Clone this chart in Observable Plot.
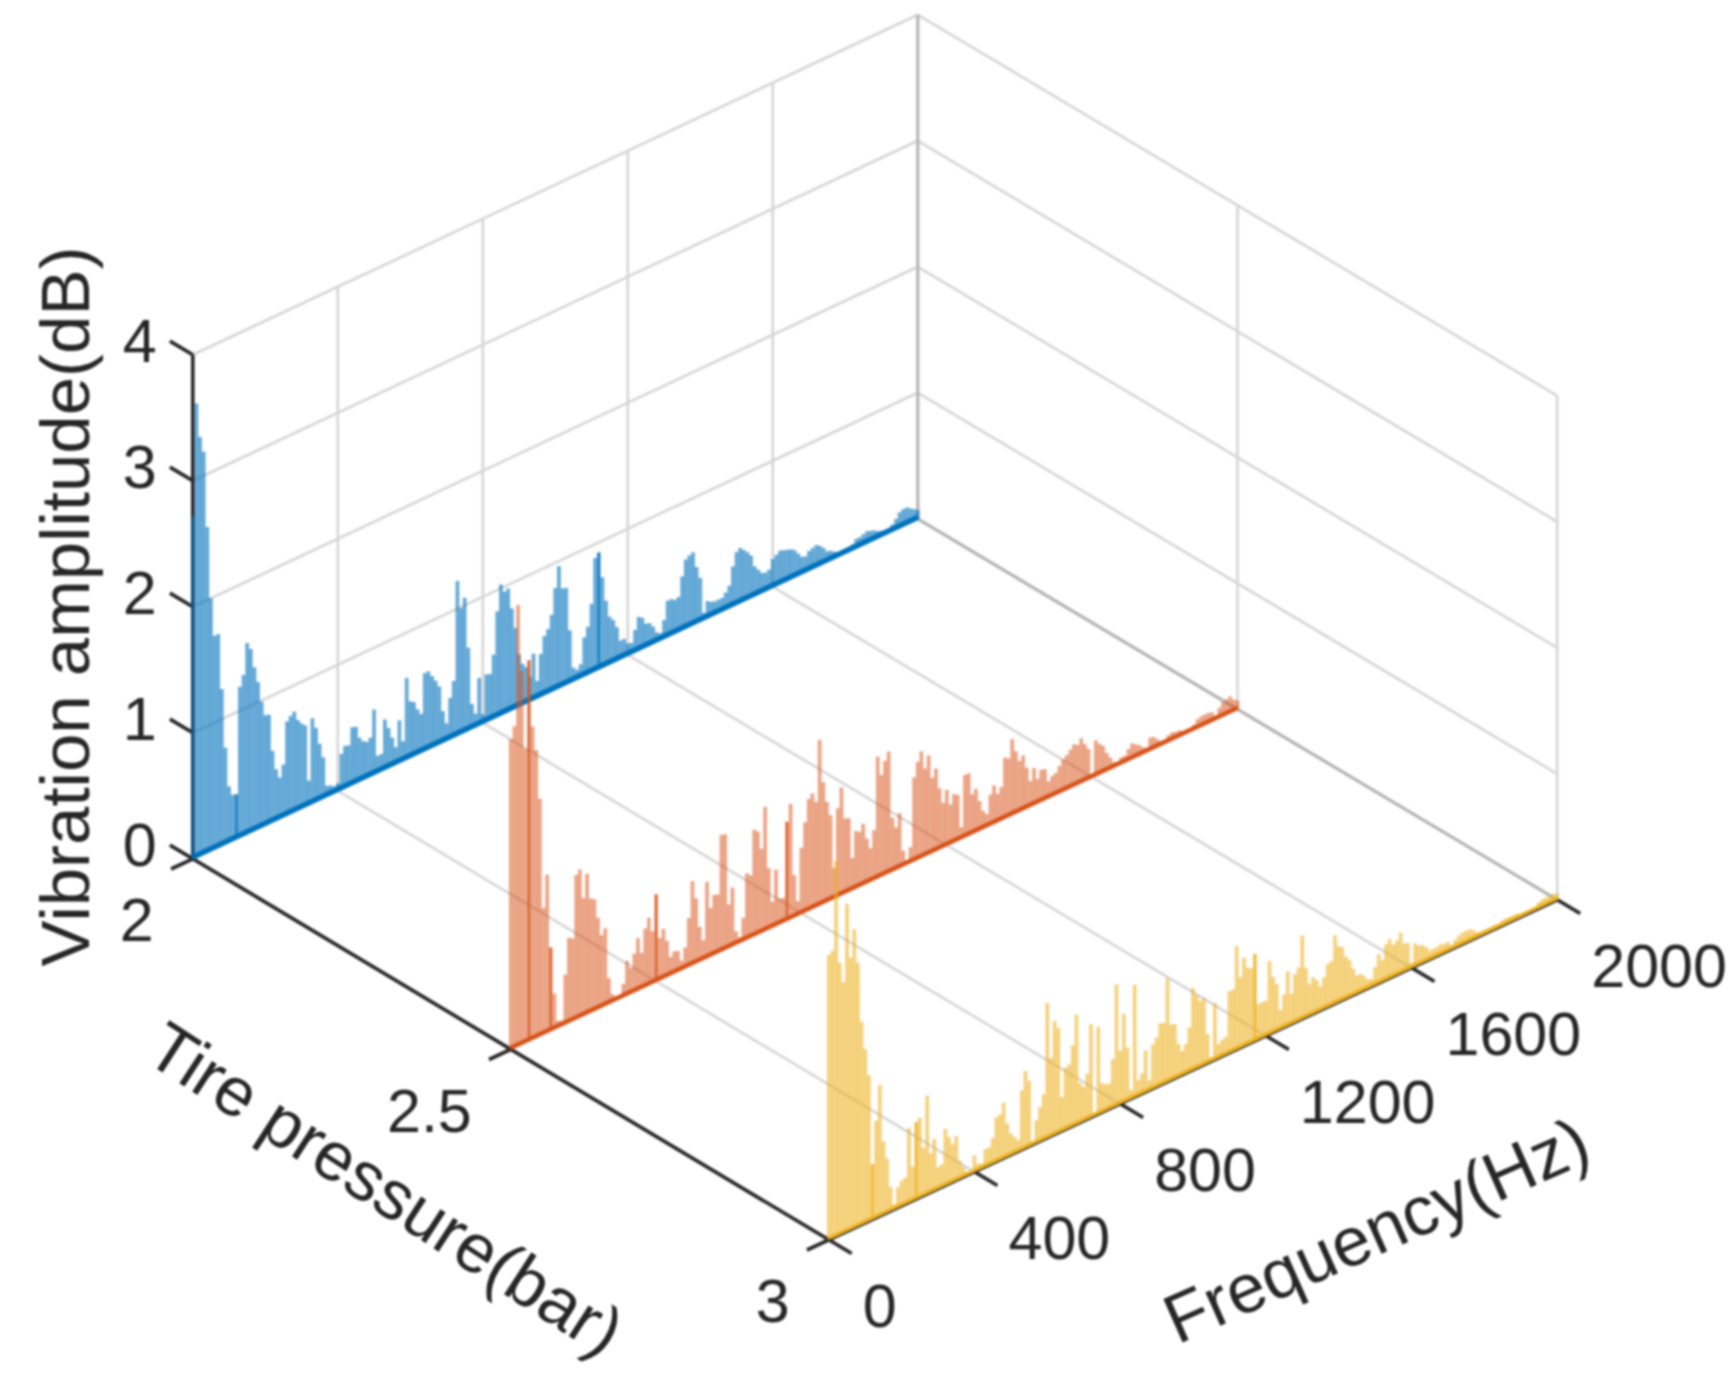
<!DOCTYPE html>
<html><head><meta charset="utf-8">
<script src="https://cdn.jsdelivr.net/npm/d3@7"></script>
<script src="https://cdn.jsdelivr.net/npm/@observablehq/plot@0.6"></script>
<style>html,body{margin:0;padding:0;background:#fff}svg{display:block}</style>
</head><body><div id="chart"></div>
<script>
const amp2 = [2.72,3.6,3.32,3.19,2.58,2.0,1.69,1.69,1.24,.76,.44,.36,.35,1.19,1.27,1.51,1.45,1.29,1.16,.99,.87,.86,.56,.40,.32,.41,.74,.77,.79,.71,.67,.64,.19,.67,.58,.44,.32,.08,.07,.05,.06,.28,.33,.32,.45,.44,.34,.30,.28,.30,.51,.13,.13,.39,.31,.22,.13,.33,.15,.64,.44,.42,.35,.30,.61,.61,.56,.51,.45,.24,.13,.32,.44,1.22,.99,1.06,.65,.19,.10,.37,.07,.37,.36,.50,.83,1.03,.96,.97,.80,.63,.41,.32,.28,.19,.36,.13,.33,.46,.5,.6,.8,.96,.77,.76,.41,.1,.07,.1,.3,.37,.54,.89,.92,.71,.51,.37,.33,.26,.14,.14,.09,.08,.17,.26,.24,.18,.17,.13,.07,.05,.14,.28,.28,.26,.27,.42,.54,.56,.57,.44,.34,.05,.13,.11,.10,.10,.10,.13,.17,.31,.41,.43,.40,.37,.33,.23,.19,.15,.14,.15,.22,.24,.26,.25,.24,.23,.21,.17,.13,.12,.15,.16,.17,.15,.12,.08,.07,.05,.03,.03,.03,.03,.04,.07,.07,.08,.09,.08,.07,.05,.04,.02,.02,.05,.08,.12,.13,.13,.11,.09,.07];
const amp25 = [2.46,2.55,3.5,2.96,2.33,3.02,2.48,2.28,1.88,1.0,1.25,.66,.28,.05,.04,.39,.67,.65,1.14,1.17,.93,1.11,.90,.88,.72,.57,.61,.2,.06,.02,.02,.1,.27,.2,.3,.41,.28,.46,.53,.41,.69,.33,.39,.28,.14,.17,.16,.07,.16,.38,.66,.51,.27,.15,.6,.38,.47,.46,.92,.91,.34,.46,.10,.04,.18,.52,.49,.84,.81,.66,.98,.48,.2,.44,.2,.19,.78,.91,.33,.11,.52,.71,.88,.91,.83,1.31,.96,.79,.67,.24,.7,.85,.59,.58,.25,.45,.43,.48,.35,.26,.39,.96,.8,.9,.96,.42,.33,.43,.12,.03,.12,.66,.77,.84,.69,.78,.59,.65,.48,.35,.44,.31,.38,.36,.09,.49,.49,.31,.34,.23,.14,.10,.24,.30,.22,.26,.48,.46,.6,.49,.40,.43,.32,.20,.29,.19,.25,.24,.13,.16,.17,.21,.25,.27,.30,.33,.31,.35,.29,.24,.01,.28,.24,.21,.14,.09,.04,.02,.05,.05,.09,.12,.10,.08,.05,.03,.10,.09,.06,.03,.03,.05,.06,.05,.05,.03,.02,.02,.04,.07,.08,.08,.08,.07,.03,.08,.11,.12,.13,.09,.07];
const amp3 = [2.26,2.28,2.98,2.16,1.99,2.6,2.16,2.37,2.09,1.61,1.38,1.16,.44,.77,1.04,.58,.43,.19,.04,.16,.2,.21,.59,.27,.61,.63,.38,.78,.31,.41,.17,.18,.45,.37,.3,.35,.14,.08,.01,.01,.13,.05,.04,.14,.14,.2,.35,.36,.44,.26,.17,.13,.09,.47,.61,.52,.03,.18,.27,.36,1.07,.62,.9,.83,.27,.49,.5,.64,.87,.31,.27,.36,.74,.02,.69,.23,.21,.2,.38,.96,.42,.7,.42,.07,.89,.12,.16,.33,.08,.35,.39,.49,.48,.82,.44,.43,.26,.19,.23,.35,.65,.58,.52,.53,.23,.03,.45,.11,.13,.14,.49,.49,.82,.56,.7,.61,.59,.69,.28,.28,.28,.58,.44,.37,.15,.26,.43,.24,.38,.42,.66,.39,.25,.29,.25,.19,.25,.34,.35,.54,.44,.42,.33,.29,.21,.14,.14,.11,.07,.06,.14,.23,.17,.28,.31,.25,.27,.32,.22,.21,.04,.18,.15,.14,.11,.07,.07,.07,.08,.07,.07,.03,.06,.08,.09,.09,.09,.07,.04,.03,.03,.03,.03,.03,.01,.04,.04,.04,.04,.04,.02,.02,.01,.01,.02,.05,.06,.06,.06,.06,.05];
const accent2 = [120, 1120];
const accent25 = [50, 110, 400, 760];
const accent3 = [120, 240, 1170];
const pressures = [2, 2.5, 3];
const colors = ["#0072BD", "#D95319", "#EDB120"];
const pressureLabels = ["2", "2.5", "3"];
const freqTicks = [0, 400, 800, 1200, 1600, 2000];
const ampTicks = [0, 1, 2, 3, 4];
const gridColor = "#d6d6d6", cornerColor = "#b4b4b4", inkColor = "#262626";

// axonometric view of (frequency, pressure, amplitude)
const sx = (f, p) => 192.3 + (f / 2000) * (725 + 3.4 * (p - 2)) + (p - 2) * 636;
const sy = (f, p, z = 0) => 858.3 - (f / 2000) * 340 + (p - 2) * 381 - z * 126;
const seg = (a, b) => ({x1: sx(a[0], a[1]), y1: sy(a[0], a[1], a[2]), x2: sx(b[0], b[1]), y2: sy(b[0], b[1], b[2])});
const linkOf = (rows, o) => Plot.link(rows, {x1: "x1", y1: "y1", x2: "x2", y2: "y2", ...o});

const freqGrid = freqTicks.slice(1, -1);
const grid = [
  ...ampTicks.slice(1).map(z => seg([0, 2, z], [2000, 2, z])),
  ...ampTicks.slice(1).map(z => seg([2000, 2, z], [2000, 3, z])),
  ...freqGrid.map(f => seg([f, 2, 0], [f, 2, 4])),
  ...freqGrid.map(f => seg([f, 2, 0], [f, 3, 0])),
  seg([0, 2.5, 0], [2000, 2.5, 0]),
  seg([2000, 2.5, 0], [2000, 2.5, 4]),
  seg([2000, 3, 0], [2000, 3, 4])
];
const corner = [seg([2000, 2, 0], [2000, 2, 4]), seg([2000, 2, 0], [2000, 3, 0])];
const axes = [seg([0, 2, 0], [0, 2, 4]), seg([0, 2, 0], [0, 3, 0]), seg([0, 3, 0], [2000, 3, 0])];
const tickP = 0.036, tickF = 60;
const ticks = [
  ...ampTicks.map(z => seg([0, 2, z], [0, 2 - tickP, z])),
  ...freqTicks.map(f => seg([f, 3, 0], [f, 3 + tickP, 0])),
  ...pressures.map(p => seg([0, p, 0], [-tickF, p, 0]))
];

const bars = (values, p) => values.map((z, i) => {
  const f = i * 10;
  return {f, ...seg([f, p, 0], [f, p, z])};
});
const series = [[amp2, accent2], [amp25, accent25], [amp3, accent3]];
const barOpacity = [0.6, 0.52, 0.58];
const seriesMarks = series.flatMap(([values, accent], k) => {
  const p = pressures[k], rows = bars(values, p), color = colors[k];
  return [
    linkOf(rows, {stroke: color, strokeWidth: 3.8, strokeOpacity: barOpacity[k]}),
    linkOf(rows.filter(d => accent.includes(d.f)), {stroke: color, strokeWidth: 2.4, strokeOpacity: 0.75}),
    linkOf([seg([0, p, 0.012], [2000, p, 0.012])], {stroke: color, strokeWidth: [5.5, 4.5, 3.5][k]})
  ];
});

const font = "Liberation Sans, Arial, sans-serif";
const textOpts = {fontFamily: font, fill: inkColor, stroke: "none", lineAnchor: "middle"};
const chart = Plot.plot({
  width: 1736, height: 1378, margin: 0,
  x: {domain: [0, 1736], range: [0, 1736], axis: null},
  y: {domain: [0, 1378], range: [0, 1378], axis: null},
  style: {background: "#fff", filter: "blur(1px)"},
  marks: [
    linkOf(grid, {stroke: gridColor, strokeWidth: 2.6}),
    linkOf(corner, {stroke: cornerColor, strokeWidth: 3.2}),
    linkOf(axes, {stroke: inkColor, strokeWidth: 3.6}),
    linkOf(ticks, {stroke: inkColor, strokeWidth: 3.6}),
    ...seriesMarks,
    Plot.text(ampTicks, {x: z => sx(0, 2), y: z => sy(0, 2, z), text: z => String(z), textAnchor: "end", dx: -36, dy: -12, fontSize: 61, ...textOpts}),
    Plot.text(freqTicks, {x: f => sx(f, 3), y: f => sy(f, 3), text: f => String(f), textAnchor: "start", dx: 34, dy: 68, fontSize: 61, ...textOpts}),
    Plot.text(pressures, {x: p => sx(0, p), y: p => sy(0, p), text: (p, i) => pressureLabels[i], textAnchor: "end", dx: -39, dy: 63, fontSize: 61, ...textOpts}),
    Plot.text(["Vibration amplitude(dB)"], {x: () => 66, y: () => 606, text: d => d, rotate: -90, textAnchor: "middle", fontSize: 69, ...textOpts}),
    Plot.text(["Tire pressure(bar)"], {x: () => sx(0, 2.5) - 126, y: () => sy(0, 2.5) + 141, text: d => d, rotate: 33, textAnchor: "middle", fontSize: 69, ...textOpts}),
    Plot.text(["Frequency(Hz)"], {x: () => sx(1000, 3) + 184, y: () => sy(1000, 3) + 162, text: d => d, rotate: -24, textAnchor: "middle", fontSize: 69, ...textOpts})
  ]
});
document.getElementById("chart").append(chart);
</script></body></html>
